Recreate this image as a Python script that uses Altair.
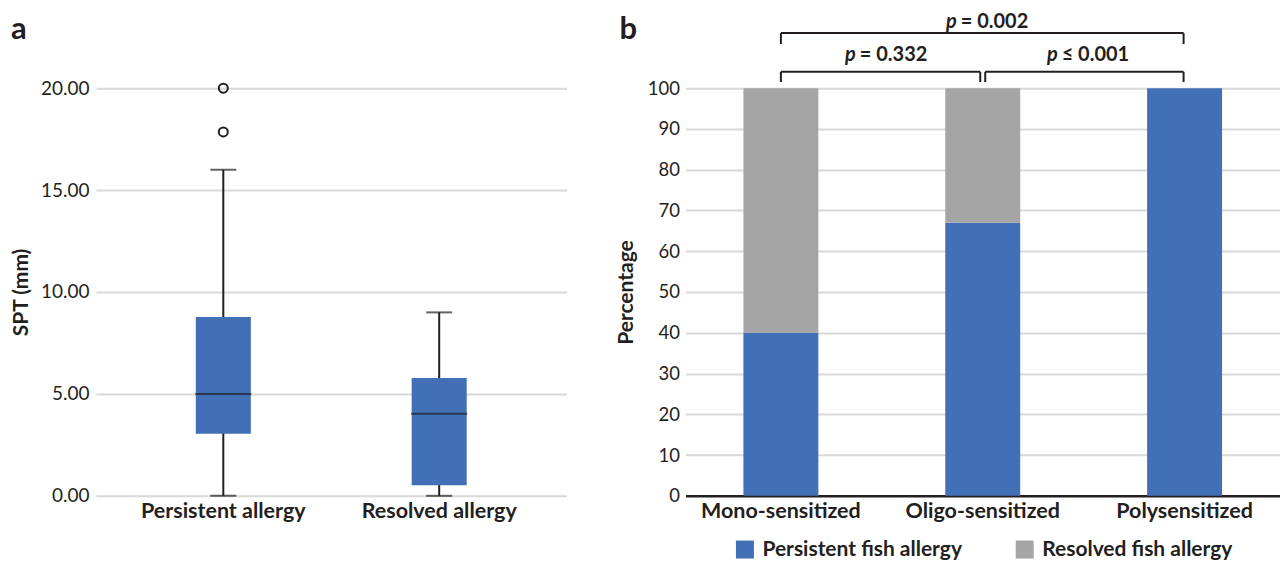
import altair as alt
import pandas as pd

FONT = "Lato"
DARK = "#231F20"
BLUE = "#4170B6"
GREY = "#A6A5A6"
GRID = "#D9D9D9"

# ---------------- Panel a data (box plot summary) ----------------
box_groups = ["Persistent allergy", "Resolved allergy"]
whisker_low = [0.0, 0.0]
q1_vals = [3.05, 0.52]
median_vals = [5.0, 4.03]
q3_vals = [8.77, 5.78]
whisker_high = [16.0, 9.0]
outlier_groups = ["Persistent allergy", "Persistent allergy"]
outlier_vals = [20.0, 17.85]

# ---------------- Panel b data (stacked percentages) ----------------
sens_groups = ["Mono-sensitized", "Oligo-sensitized", "Polysensitized"]
persistent_pct = [40, 67, 100]
resolved_pct = [60, 33, 0]
series_names = ["Persistent fish allergy", "Resolved fish allergy"]

comp_start = ["Mono-sensitized", "Oligo-sensitized", "Mono-sensitized"]
comp_end = ["Oligo-sensitized", "Polysensitized", "Polysensitized"]
comp_label = ["= 0.332", "\u2264 0.001", "= 0.002"]
comp_tier = ["low", "low", "high"]

XLAB = 21.5
TITLE = 21
TAG = 31
PFS = 20

# ---------------- Panel a ----------------
box_df = pd.DataFrame({
    "group": box_groups, "lo": whisker_low, "q1": q1_vals,
    "med": median_vals, "q3": q3_vals, "hi": whisker_high,
})
out_df = pd.DataFrame({"group": outlier_groups, "value": outlier_vals})

xa = alt.X("group:N", sort=box_groups,
           scale=alt.Scale(paddingInner=0.745, paddingOuter=0.4625),
           axis=alt.Axis(title=None, labelAngle=0, ticks=False, domain=False,
                         labelFontWeight="bold", labelFontSize=XLAB,
                         labelPadding=5, labelColor=DARK, labelLimit=400))

ya_axis = alt.Axis(title="SPT (mm)", values=[0, 5, 10, 15, 20], format=".2f",
                   ticks=False, domain=False, grid=True, gridColor=GRID,
                   gridWidth=2, labelFontSize=19, labelColor=DARK,
                   labelPadding=7, titleFontSize=TITLE, titleFontWeight="bold",
                   titleColor=DARK, titlePadding=9)
ya_scale = alt.Scale(domain=[0, 20], nice=False)


def ya(field):
    return alt.Y(f"{field}:Q", scale=ya_scale, axis=ya_axis)


whisk = alt.Chart(box_df).mark_rule(color=DARK, strokeWidth=2).encode(
    x=xa, y=ya("lo"), y2="hi")
box = alt.Chart(box_df).mark_bar(color=BLUE).encode(x=xa, y=ya("q1"), y2="q3")
med = alt.Chart(box_df).mark_tick(color=DARK, size=56, thickness=2).encode(
    x=xa, y=ya("med"))
cap_lo = alt.Chart(box_df).mark_tick(color=DARK, size=26, thickness=2).encode(
    x=xa, y=ya("lo"))
cap_hi = alt.Chart(box_df).mark_tick(color=DARK, size=26, thickness=2).encode(
    x=xa, y=ya("hi"))
outl = alt.Chart(out_df).mark_point(shape="circle", filled=False, color=DARK,
                                    strokeWidth=2, size=81, opacity=1).encode(
    x=xa, y=ya("value"))
tag_a = alt.Chart(pd.DataFrame({"t": ["a"]})).mark_text(
    font=FONT, fontSize=TAG, fontWeight="bold", color=DARK, align="left",
    baseline="alphabetic").encode(text="t:N", x=alt.value(-85), y=alt.value(-49))

left = alt.layer(whisk, box, med, cap_lo, cap_hi, outl, tag_a).properties(
    width=471, height=408)

# ---------------- Panel b ----------------
rows = []
for g, p, r in zip(sens_groups, persistent_pct, resolved_pct):
    rows.append({"group": g, "series": series_names[0], "value": p, "ord": 0})
    rows.append({"group": g, "series": series_names[1], "value": r, "ord": 1})
bar_df = pd.DataFrame(rows)

STEP = 202
RIGHT_W = 595
xb_scale = alt.Scale(domain=sens_groups, paddingInner=0.6287, paddingOuter=0.2871)
xb_axis = alt.Axis(title=None, labelAngle=0, ticks=False, domain=False,
                   labelFontWeight="bold", labelFontSize=XLAB,
                   labelPadding=5, labelColor=DARK, labelLimit=400)
xb = alt.X("group:N", sort=sens_groups, scale=xb_scale, axis=xb_axis)
yb_scale = alt.Scale(domain=[0, 100], nice=False)
yb_axis = alt.Axis(title="Percentage", values=list(range(0, 101, 10)),
                   ticks=False, domain=False, grid=True,
                   gridColor=alt.condition("datum.value == 0", alt.value(DARK), alt.value(GRID)),
                   gridWidth=alt.condition("datum.value == 0", alt.value(2.5), alt.value(2)),
                   labelFontSize=18.5, labelColor=DARK,
                   labelPadding=6, titleFontSize=TITLE, titleFontWeight="bold",
                   titleColor=DARK, titlePadding=11)

bars = alt.Chart(bar_df).mark_bar().encode(
    x=xb,
    y=alt.Y("value:Q", stack="zero", scale=yb_scale, axis=yb_axis),
    color=alt.Color("series:N", scale=alt.Scale(domain=series_names, range=[BLUE, GREY]),
                    legend=alt.Legend(orient="none", legendX=49, legendY=451,
                                      direction="horizontal", title=None,
                                      symbolType="square", symbolSize=324,
                                      symbolStrokeWidth=0, symbolOpacity=1,
                                      labelFont=FONT, labelFontSize=21,
                                      labelFontWeight="bold", labelColor=DARK,
                                      labelOffset=7, columnPadding=52,
                                      padding=0, labelLimit=400)),
    order=alt.Order("ord:Q"),
)

TIERS = {"low": (104.0, 101.5, 106.6), "high": (113.5, 110.8, 114.83)}
layers = [bars]
for s, e, lab, tier in zip(comp_start, comp_end, comp_label, comp_tier):
    y_line, y_foot, y_text = TIERS[tier]
    off_s = 2.5 if (tier == "low" and s == "Oligo-sensitized") else 0
    off_e = -2.5 if (tier == "low" and e == "Oligo-sensitized") else -1
    dfc = pd.DataFrame({"s": [s], "e": [e], "lab": [lab], "p": ["p"]})
    xs = alt.X("s:N", scale=xb_scale, sort=sens_groups, axis=xb_axis)
    xe = alt.X("e:N", scale=xb_scale, sort=sens_groups, axis=xb_axis)
    layers.append(alt.Chart(dfc).mark_rule(color=DARK, strokeWidth=2,
                                           xOffset=off_s, x2Offset=off_e).encode(
        x=xs, x2="e:N", y=alt.datum(y_line, scale=yb_scale, axis=yb_axis)))
    layers.append(alt.Chart(dfc).mark_rule(color=DARK, strokeWidth=2, xOffset=off_s).encode(
        x=xs, y=alt.datum(y_line, scale=yb_scale, axis=yb_axis), y2=alt.datum(y_foot)))
    layers.append(alt.Chart(dfc).mark_rule(color=DARK, strokeWidth=2, xOffset=off_e).encode(
        x=xe, y=alt.datum(y_line, scale=yb_scale, axis=yb_axis), y2=alt.datum(y_foot)))
    i0 = sens_groups.index(s)
    i1 = sens_groups.index(e)
    mid = (i1 - i0) * STEP / 2
    anchor = mid - 26
    layers.append(alt.Chart(dfc).mark_text(
        font=FONT, fontSize=PFS, fontWeight="bold", fontStyle="italic", color=DARK,
        align="right", baseline="alphabetic", dx=anchor).encode(
        x=xs, y=alt.datum(y_text, scale=yb_scale, axis=yb_axis), text="p:N"))
    layers.append(alt.Chart(dfc).mark_text(
        font=FONT, fontSize=PFS, fontWeight="bold", color=DARK,
        align="left", baseline="alphabetic", dx=anchor + 4).encode(
        x=xs, y=alt.datum(y_text, scale=yb_scale, axis=yb_axis), text="lab:N"))

tag_b = alt.Chart(pd.DataFrame({"t": ["b"]})).mark_text(
    font=FONT, fontSize=TAG, fontWeight="bold", color=DARK, align="left",
    baseline="alphabetic").encode(text="t:N", x=alt.value(-66), y=alt.value(-49))
layers.append(tag_b)

right = alt.layer(*layers).properties(width=RIGHT_W, height=408)

chart = alt.hconcat(left, right, spacing=119, bounds="flush").resolve_legend(
    color="independent"
).properties(
    padding={"left": 2, "top": 3, "right": 0, "bottom": 0}
).configure(font=FONT).configure_view(stroke=None).configure_axis(
    labelFont=FONT, titleFont=FONT)

chart.save("out.html", embed_options={"renderer": "svg", "actions": False})
